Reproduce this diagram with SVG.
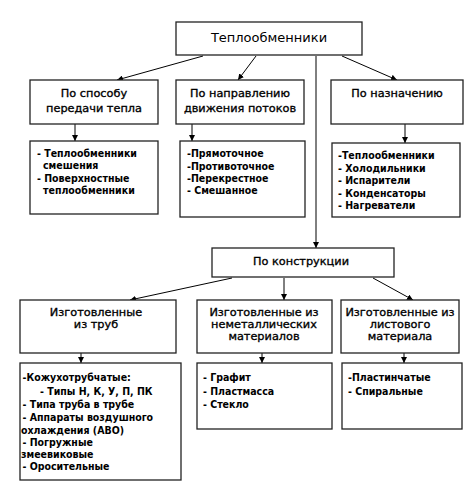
<svg xmlns="http://www.w3.org/2000/svg" width="470" height="495" viewBox="0 0 470 495">
<defs>
<marker id="ah" viewBox="0 0 8 8" refX="8" refY="4" markerWidth="6" markerHeight="6" markerUnits="userSpaceOnUse" orient="auto">
<path d="M0,0 L8,4 L0,8 z" fill="#000"/>
</marker>
<style>
.box{fill:#fff;stroke:#222;stroke-width:1.3}
.t{font-family:"DejaVu Sans","Liberation Sans",sans-serif;font-size:13px;fill:#000}
.l{font-family:"DejaVu Sans","Liberation Sans",sans-serif;font-size:11.3px;fill:#000;stroke:#000;stroke-width:0.35;text-anchor:middle}
.s{font-family:"DejaVu Sans Condensed","DejaVu Sans",sans-serif;font-size:10.5px;font-weight:bold;fill:#000}
.c{stroke:#000;stroke-width:1;fill:none;marker-end:url(#ah)}
</style>
</defs>
<rect width="470" height="495" fill="#fff"/>
<g id="connectors">
<line class="c" x1="203" y1="56" x2="117" y2="80"/>
<line class="c" x1="256" y1="56" x2="238" y2="80"/>
<line class="c" x1="342" y1="56" x2="397" y2="80"/>
<line class="c" x1="316" y1="56" x2="316" y2="248"/>
<line class="c" x1="75" y1="124" x2="75" y2="141"/>
<line class="c" x1="192" y1="124" x2="192" y2="141"/>
<line class="c" x1="405" y1="124" x2="405" y2="143"/>
<line class="c" x1="232" y1="278" x2="130" y2="300"/>
<line class="c" x1="284" y1="278" x2="284" y2="300"/>
<line class="c" x1="373" y1="278" x2="413" y2="300"/>
<line class="c" x1="81" y1="353" x2="81" y2="363"/>
<line class="c" x1="262" y1="353" x2="262" y2="363"/>
<line class="c" x1="404" y1="353" x2="404" y2="363"/>
</g>
<g id="root">
<rect class="box" x="176" y="22" width="186" height="33"/>
<text class="t" x="269" y="42" text-anchor="middle">Теплообменники</text>
</g>
<g id="n1">
<rect class="box" x="30" y="80" width="128" height="44"/>
<text class="l" x="94" y="97">По способу</text>
<text class="l" x="94" y="112">передачи тепла</text>
</g>
<g id="n2">
<rect class="box" x="176" y="80" width="128" height="44"/>
<text class="l" x="240" y="97">По направлению</text>
<text class="l" x="240" y="112">движения потоков</text>
</g>
<g id="n3">
<rect class="box" x="331" y="80" width="132" height="44"/>
<text class="l" x="397" y="97">По назначению</text>
</g>
<g id="n1list">
<rect class="box" x="30" y="141" width="128" height="73"/>
<text class="s" x="37" y="157">- Теплообменники</text>
<text class="s" x="43" y="168.5">смешения</text>
<text class="s" x="37" y="182">- Поверхностные</text>
<text class="s" x="43" y="194">теплообменники</text>
</g>
<g id="n2list">
<rect class="box" x="180" y="141" width="125" height="76"/>
<text class="s" x="187" y="157">-Прямоточное</text>
<text class="s" x="187" y="169.5">-Противоточное</text>
<text class="s" x="187" y="182">-Перекрестное</text>
<text class="s" x="187" y="194">- Смешанное</text>
</g>
<g id="n3list">
<rect class="box" x="332" y="143" width="128" height="74"/>
<text class="s" x="338" y="159">-Теплообменники</text>
<text class="s" x="338" y="171.5">- Холодильники</text>
<text class="s" x="338" y="184">- Испарители</text>
<text class="s" x="338" y="196.5">- Конденсаторы</text>
<text class="s" x="338" y="209">- Нагреватели</text>
</g>
<g id="n4">
<rect class="box" x="212" y="248" width="182" height="29"/>
<text class="l" x="301" y="265">По конструкции</text>
</g>
<g id="n5">
<rect class="box" x="20" y="300" width="156" height="53"/>
<text class="l" x="96" y="316">Изготовленные</text>
<text class="l" x="96" y="327.5">из труб</text>
</g>
<g id="n6">
<rect class="box" x="197" y="300" width="135" height="53"/>
<text class="l" x="264" y="316">Изготовленные из</text>
<text class="l" x="264" y="328">неметаллических</text>
<text class="l" x="264" y="340">материалов</text>
</g>
<g id="n7">
<rect class="box" x="341" y="300" width="118" height="53"/>
<text class="l" x="400" y="316">Изготовленные из</text>
<text class="l" x="400" y="328">листового</text>
<text class="l" x="400" y="340">материала</text>
</g>
<g id="n5list">
<rect class="box" x="20" y="363" width="161" height="117"/>
<text class="s" x="22.5" y="381">-Кожухотрубчатые:</text>
<text class="s" x="40" y="394.5">- Типы Н, К, У, П, ПК</text>
<text class="s" x="22.5" y="408">- Типа труба в трубе</text>
<text class="s" x="22.5" y="421">- Аппараты воздушного</text>
<text class="s" x="21" y="434">охлаждения (АВО)</text>
<text class="s" x="22.5" y="446">- Погружные</text>
<text class="s" x="21" y="458">змеевиковые</text>
<text class="s" x="22.5" y="470">- Оросительные</text>
</g>
<g id="n6list">
<rect class="box" x="197" y="363" width="135" height="66"/>
<text class="s" x="203" y="381">- Графит</text>
<text class="s" x="203" y="394.5">- Пластмасса</text>
<text class="s" x="203" y="408">- Стекло</text>
</g>
<g id="n7list">
<rect class="box" x="342" y="363" width="120" height="66"/>
<text class="s" x="348" y="381">-Пластинчатые</text>
<text class="s" x="348" y="394.5">- Спиральные</text>
</g>
</svg>
